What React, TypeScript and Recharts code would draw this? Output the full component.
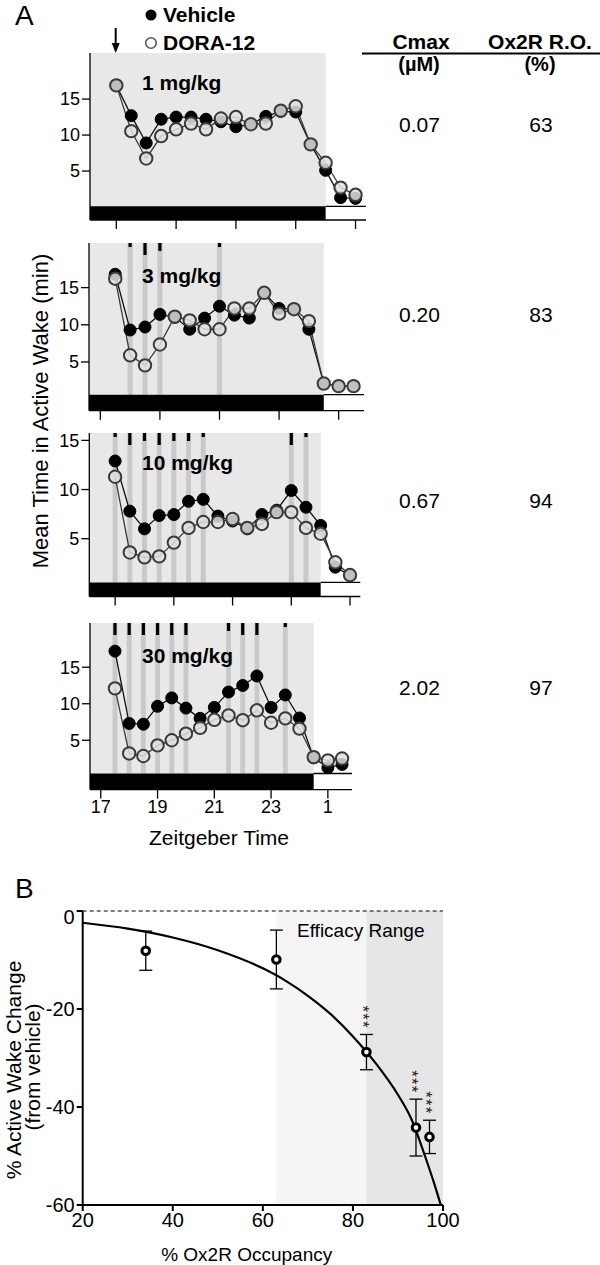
import React from 'react';
import {
  ComposedChart, Line, Scatter, XAxis, YAxis, ReferenceArea, ReferenceLine, ErrorBar,
} from 'recharts';

// ZT hours (1 = 25 on the axis)
const zt = [17.5, 18, 18.5, 19, 19.5, 20, 20.5, 21, 21.5, 22, 22.5, 23, 23.5, 24, 24.5, 25, 25.5];

const veh1 = [16.9, 12.7, 8.9, 12.2, 12.5, 12.5, 12.2, 11.85, 11.15, 11.5, 12.6, 13.3, 13.2, 8.7, 5.1, 1.3, 1.2];
const dora1 = [16.9, 10.55, 6.75, 9.86, 10.8, 11.6, 10.8, 12.3, 12.5, 11.5, 11.6, 13.4, 14.0, 8.7, 6.15, 2.7, 1.7];

const veh2 = [16.8, 9.3, 9.7, 11.4, 11.0, 9.4, 10.9, 12.5, 11.3, 10.9, 14.3, 12.2, 12.1, 9.4, 2.1, 1.75, 1.75];
const dora2 = [16.2, 5.9, 4.55, 7.35, 11.1, 10.6, 9.4, 9.4, 12.2, 12.2, 14.3, 11.5, 12.1, 10.5, 2.1, 1.75, 1.75];

const veh3 = [12.9, 7.8, 6.0, 7.35, 7.45, 8.8, 9.0, 7.3, 6.8, 6.0, 7.45, 7.9, 9.9, 8.2, 6.35, 2.1, 1.3];
const dora3 = [11.3, 3.6, 3.1, 3.2, 4.6, 6.1, 6.7, 6.7, 7.0, 6.1, 6.5, 7.7, 7.7, 6.1, 5.5, 2.6, 1.3];

const veh4 = [17.2, 7.3, 7.2, 9.65, 10.8, 9.4, 8.0, 9.5, 11.6, 12.5, 13.8, 9.5, 11.2, 8.05, 2.6, 1.25, 1.7];
const dora4 = [12.1, 3.2, 2.85, 4.3, 5.0, 5.9, 6.7, 7.8, 8.4, 7.75, 9.1, 7.4, 8.0, 6.6, 2.7, 2.25, 2.5];

// significant time bins and level (1..3)
const sigT1: number[] = [];
const sigL1: number[] = [];
const sigT2 = [18, 18.5, 19, 21];
const sigL2 = [1, 3, 2, 1];
const sigT3 = [17.5, 18, 18.5, 19, 19.5, 20, 20.5, 23.5, 24];
const sigL3 = [1, 3, 2, 3, 2, 2, 1, 3, 1];
const sigT4 = [17.5, 18, 18.5, 19, 19.5, 20, 21.5, 22, 22.5, 23.5];
const sigL4 = [3, 3, 3, 3, 3, 3, 2, 3, 3, 1];

const doses = ['1 mg/kg', '3 mg/kg', '10 mg/kg', '30 mg/kg'];
const cmax = ['0.07', '0.20', '0.67', '2.02'];
const occupancyPct = ['63', '83', '94', '97'];

const halfTicks = [17.5, 19.5, 21.5, 23.5, 25.5];
const hourTicks = [17, 19, 21, 23, 25];

// panel B
const occ = [34, 63, 83, 94, 97];
const awChange = [-8.1, -9.9, -28.8, -44.2, -46.1];
const awErr = [4.0, 6.0, 3.6, 5.8, 3.4];
const awSig = ['', '', '***', '***', '***'];
const fitX = [20, 30, 40, 50, 60, 65, 70, 75, 80, 85, 90, 93, 96, 98, 99.5];
const fitY = [-2.4, -3.6, -5.4, -8.0, -11.7, -14.2, -17.3, -21.0, -25.6, -31.0, -37.5, -42.5, -50, -55.5, -60];

const FONT = '"Liberation Sans", Arial, Helvetica, sans-serif';
const X_MIN = 16.62;
const X_MAX = 25.85;
const LIGHTS_ON = 24.5;

const panels = [
  { veh: veh1, dora: dora1, sigT: sigT1, sigL: sigL1, ticks: halfTicks, labels: false,
    left: 90, w: 276, top: 53, h: 167, yMin: -1.8, yMax: 21.4, barTop: 0.1 },
  { veh: veh2, dora: dora2, sigT: sigT2, sigL: sigL2, ticks: hourTicks, labels: false,
    left: 89, w: 275, top: 243.3, h: 167.7, yMin: -1.55, yMax: 21.0, barTop: 0.6 },
  { veh: veh3, dora: dora3, sigT: sigT3, sigL: sigL3, ticks: halfTicks, labels: false,
    left: 89.3, w: 271, top: 433.3, h: 163.5, yMin: -0.88, yMax: 15.75, barTop: 0.55 },
  { veh: veh4, dora: dora4, sigT: sigT4, sigL: sigL4, ticks: hourTicks, labels: true,
    left: 90, w: 262, top: 622.7, h: 166.6, yMin: -1.75, yMax: 21.05, barTop: 0.45 },
];

const markLen = [0, 4, 8, 12];

function SigMark(props: any) {
  const { cx, cy, payload } = props;
  if (cx == null || cy == null) return null;
  return <rect x={cx - 1.6} y={cy} width={3.2} height={markLen[payload.level]} fill="#000" />;
}

function Panel({ p }: { p: (typeof panels)[number] }) {
  const rows = zt.map((t, i) => ({ t, veh: p.veh[i], dora: p.dora[i] }));
  const sig = p.sigT.map((t, i) => ({ t, top: p.yMax, level: p.sigL[i] }));
  const mTop = 4;
  const axisH = p.labels ? 32 : 16;
  const width = p.left + p.w + 10;
  const height = mTop + p.h + axisH + 2;
  return (
    <div style={{ position: 'absolute', left: 0, top: p.top - mTop }}>
      <ComposedChart width={width} height={height} data={rows}
        margin={{ top: mTop, right: 10, bottom: 2, left: p.left - 40 }}>
        <XAxis dataKey="t" type="number" domain={[X_MIN, X_MAX]} ticks={p.ticks} allowDataOverflow
          height={axisH} tickSize={9} interval={0}
          axisLine={{ stroke: '#000', strokeWidth: 1.3 }} tickLine={{ stroke: '#000', strokeWidth: 1.3 }}
          tick={{ fontSize: 18, fill: '#000' }}
          tickFormatter={(v: number) => (p.labels ? String(v >= 24 ? v - 24 : v) : '')} />
        <YAxis type="number" domain={[p.yMin, p.yMax]} ticks={[5, 10, 15]} allowDataOverflow width={40}
          tickSize={8} axisLine={{ stroke: '#000', strokeWidth: 1.3 }} tickLine={{ stroke: '#000', strokeWidth: 1.3 }}
          tick={{ fontSize: 18, fill: '#000' }} />
        <ReferenceArea x1={X_MIN} x2={LIGHTS_ON} y1={p.barTop} y2={p.yMax} fill="#e8e8e8" fillOpacity={1}
          stroke="none" ifOverflow="hidden" />
        {p.sigT.map((t) => (
          <ReferenceArea key={t} x1={t - 0.085} x2={t + 0.085} y1={p.barTop} y2={p.yMax}
            fill="#c9c9c9" fillOpacity={1} stroke="none" ifOverflow="hidden" />
        ))}
        <ReferenceArea x1={X_MIN} x2={LIGHTS_ON} y1={p.yMin} y2={p.barTop} fill="#000" fillOpacity={1}
          stroke="none" ifOverflow="hidden" />
        <ReferenceLine segment={[{ x: LIGHTS_ON, y: p.barTop }, { x: X_MAX, y: p.barTop }]}
          stroke="#000" strokeWidth={1.3} ifOverflow="visible" />
        <Scatter data={sig} dataKey="top" shape={<SigMark />} isAnimationActive={false} legendType="none" />
        <Line dataKey="veh" stroke="#111" strokeWidth={1.3} isAnimationActive={false} activeDot={false}
          dot={{ r: 6, fill: '#000', stroke: '#000', strokeWidth: 1 }} />
        <Line dataKey="dora" stroke="#3a3a3a" strokeWidth={1.3} isAnimationActive={false} activeDot={false}
          dot={{ r: 6.2, fill: '#e0e0e0', fillOpacity: 0.85, stroke: '#3a3a3a', strokeWidth: 2 }} />
      </ComposedChart>
    </div>
  );
}

function Ring(props: any) {
  const { cx, cy } = props;
  if (cx == null || cy == null) return null;
  return <circle cx={cx} cy={cy} r={3.8} fill="#fff" stroke="#000" strokeWidth={3} />;
}

function Stars(props: any) {
  const { cx, cy, payload } = props;
  if (cx == null || cy == null || !payload.sig) return null;
  const fs = 17;
  // vertical stack of asterisks: one text run turned by 90 degrees
  return (
    <text transform={`translate(${cx - fs * 0.58},${cy - 29}) rotate(90)`} fontSize={fs} fill="#222"
      letterSpacing={1.2} fontFamily={FONT}>{payload.sig}</text>
  );
}

function PanelB() {
  const curve = fitX.map((x, i) => ({ x, y: fitY[i] }));
  const pts = occ.map((x, i) => ({ x, y: awChange[i], err: awErr[i] }));
  const stars = occ.map((x, i) => ({ x, y: awChange[i] + awErr[i], sig: awSig[i] })).filter((d) => d.sig);
  const mTop = 6;
  return (
    <div style={{ position: 'absolute', left: 0, top: 911 - mTop }}>
      <ComposedChart width={473} height={mTop + 294 + 40} margin={{ top: mTop, right: 30, bottom: 0, left: 22.7 }}>
        <XAxis dataKey="x" type="number" domain={[20, 100]} ticks={[20, 40, 60, 80, 100]} allowDataOverflow
          height={40} tickSize={6} axisLine={{ stroke: '#000', strokeWidth: 2 }} tickLine={{ stroke: '#000', strokeWidth: 2 }}
          tick={{ fontSize: 20, fill: '#000' }} />
        <YAxis type="number" domain={[-60, 0]} ticks={[-60, -40, -20, 0]} allowDataOverflow width={60}
          tickSize={6} axisLine={{ stroke: '#000', strokeWidth: 2 }} tickLine={{ stroke: '#000', strokeWidth: 2 }}
          tick={{ fontSize: 20, fill: '#000' }} />
        <ReferenceArea x1={63} x2={83} y1={-60} y2={0} fill="#f5f5f5" fillOpacity={1} stroke="none" />
        <ReferenceArea x1={83} x2={100} y1={-60} y2={0} fill="#e6e6e6" fillOpacity={1} stroke="none" />
        <ReferenceLine y={0} stroke="#000" strokeWidth={1.2} strokeDasharray="4 3" />
        <Line data={curve} dataKey="y" type="monotone" stroke="#000" strokeWidth={2.2} dot={false}
          activeDot={false} isAnimationActive={false} />
        <Scatter data={pts} dataKey="y" shape={<Ring />} isAnimationActive={false} legendType="none">
          <ErrorBar dataKey="err" direction="y" width={6.5} stroke="#000" strokeWidth={1.3} />
        </Scatter>
        <Scatter data={stars} dataKey="y" shape={<Stars />} isAnimationActive={false} legendType="none" />
      </ComposedChart>
    </div>
  );
}

const rowBaseline = [131.7, 321.7, 508, 695];
const doseBaseline = [90, 283.3, 470, 663.3];

export default function App() {
  return (
    <div style={{ position: 'absolute', left: 0, top: 0, width: 600, height: 1265, background: '#fff', fontFamily: FONT }}>
      {panels.map((p, i) => <Panel key={i} p={p} />)}
      <PanelB />
      <svg width={600} height={1265} style={{ position: 'absolute', left: 0, top: 0, pointerEvents: 'none' }}
        fontFamily={FONT}>
        <text x={15} y={25} fontSize={28}>A</text>
        <line x1={115.7} y1={28} x2={115.7} y2={46} stroke="#000" strokeWidth={2} />
        <polygon points="111.7,43 119.7,43 115.7,53" fill="#000" />
        <circle cx={151} cy={15} r={5.5} fill="#000" />
        <text x={163} y={22} fontSize={21} fontWeight="bold">Vehicle</text>
        <circle cx={151} cy={43} r={5.3} fill="#fff" stroke="#555" strokeWidth={1.6} />
        <text x={163} y={50} fontSize={21} fontWeight="bold">DORA-12</text>

        <text x={421} y={49} fontSize={21} fontWeight="bold" textAnchor="middle">Cmax</text>
        <text x={540} y={49} fontSize={21} fontWeight="bold" textAnchor="middle">Ox2R R.O.</text>
        <line x1={362} y1={53.5} x2={600} y2={53.5} stroke="#000" strokeWidth={2} />
        <text x={419} y={71} fontSize={20} fontWeight="bold" textAnchor="middle">(µM)</text>
        <text x={540} y={71} fontSize={20} fontWeight="bold" textAnchor="middle">(%)</text>
        {cmax.map((c, i) => (
          <g key={c}>
            <text x={419.5} y={rowBaseline[i]} fontSize={21} textAnchor="middle">{c}</text>
            <text x={541} y={rowBaseline[i]} fontSize={21} textAnchor="middle">{occupancyPct[i]}</text>
          </g>
        ))}
        {doses.map((d, i) => (
          <text key={d} x={142} y={doseBaseline[i]} fontSize={21} fontWeight="bold">{d}</text>
        ))}
        <text transform="translate(48,411) rotate(-90)" fontSize={22} textAnchor="middle">
          Mean Time in Active Wake (min)
        </text>
        <text x={219} y={845} fontSize={21} textAnchor="middle">Zeitgeber Time</text>

        <text x={15} y={898} fontSize={28}>B</text>
        <text x={297} y={937} fontSize={19}>Efficacy Range</text>
        <text transform="translate(20.5,1070) rotate(-90)" fontSize={21} textAnchor="middle">% Active Wake Change</text>
        <text transform="translate(40,1067) rotate(-90)" fontSize={21} textAnchor="middle">(from vehicle)</text>
        <text x={246.7} y={1261} fontSize={19} textAnchor="middle">% Ox2R Occupancy</text>
      </svg>
    </div>
  );
}
